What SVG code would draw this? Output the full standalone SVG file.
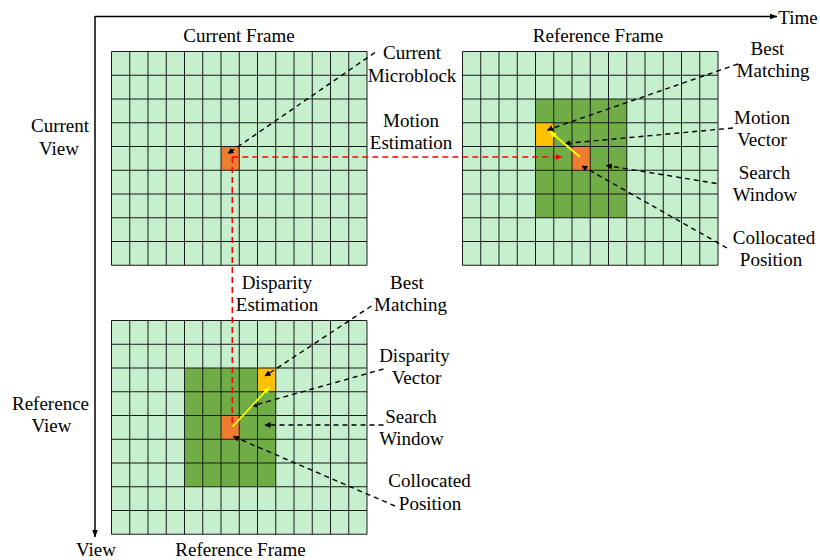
<svg xmlns="http://www.w3.org/2000/svg" width="820" height="560" viewBox="0 0 820 560">
<style>
text{font-family:"Liberation Serif","Times New Roman",serif;font-size:19px;fill:#000;text-anchor:middle}
.bg{fill:#C6EFCE}
.sw{fill:#70AD47}
.cur{fill:#ED7D31}
.best{fill:#FFC000}
.grid{stroke:#1a1a1a;stroke-width:1;fill:none}
.dash{stroke:#000;stroke-width:1.4;stroke-dasharray:5 4;fill:none;marker-end:url(#ah)}
.red{stroke:#FF0000;stroke-width:1.6;stroke-dasharray:6 4;fill:none}
.yel{stroke:#FFFF00;stroke-width:1.8;fill:none;marker-end:url(#ay)}
.axis{stroke:#000;stroke-width:1.5;fill:none}
</style>
<defs>
<marker id="ah" viewBox="0 0 6 6" refX="5.5" refY="3" markerWidth="6" markerHeight="6" markerUnits="userSpaceOnUse" orient="auto"><path d="M0,0 L6,3 L0,6 z" fill="#000"/></marker>
<marker id="ar" viewBox="0 0 7 6" refX="6.5" refY="3" markerWidth="7" markerHeight="6" markerUnits="userSpaceOnUse" orient="auto"><path d="M0,0 L7,3 L0,6 z" fill="#FF0000"/></marker>
<marker id="ay" viewBox="0 0 7 6" refX="6.5" refY="3" markerWidth="7" markerHeight="6" markerUnits="userSpaceOnUse" orient="auto"><path d="M0,0 L7,3 L0,6 z" fill="#FFFF00"/></marker>
<marker id="ax" viewBox="0 0 8 6" refX="7.5" refY="3" markerWidth="8" markerHeight="6" markerUnits="userSpaceOnUse" orient="auto"><path d="M0,0 L8,3 L0,6 z" fill="#000"/></marker>
</defs>

<g id="axes">
<line class="axis" x1="95" y1="16.5" x2="777" y2="16.5" marker-end="url(#ax)"/>
<line class="axis" x1="95" y1="16" x2="95" y2="537" marker-end="url(#ax)"/>
<text x="798" y="24">Time</text>
<text x="96" y="556">View</text>
<text x="60" y="132">Current</text>
<text x="59" y="155">View</text>
<text x="50.5" y="410">Reference</text>
<text x="51.5" y="432">View</text>
</g>

<g id="current-frame">
<rect class="bg" x="111.5" y="51.5" width="255.5" height="213.75"/>
<rect class="cur" x="221" y="146.5" width="18.25" height="23.75"/>
<path class="grid" d="M111.5,51.5V265.25M129.75,51.5V265.25M148,51.5V265.25M166.25,51.5V265.25M184.5,51.5V265.25M202.75,51.5V265.25M221,51.5V265.25M239.25,51.5V265.25M257.5,51.5V265.25M275.75,51.5V265.25M294,51.5V265.25M312.25,51.5V265.25M330.5,51.5V265.25M348.75,51.5V265.25M367,51.5V265.25M111.5,51.5H367M111.5,75.25H367M111.5,99H367M111.5,122.75H367M111.5,146.5H367M111.5,170.25H367M111.5,194H367M111.5,217.75H367M111.5,241.5H367M111.5,265.25H367"/>
<text x="239" y="42">Current Frame</text>
</g>

<g id="reference-frame-time">
<rect class="bg" x="462.5" y="51.5" width="255.5" height="213.75"/>
<rect class="sw" x="535.5" y="99" width="91.25" height="118.75"/>
<rect class="best" x="535.5" y="122.75" width="18.25" height="23.75"/>
<rect class="cur" x="572" y="146.5" width="18.25" height="23.75"/>
<path class="grid" d="M462.5,51.5V265.25M480.75,51.5V265.25M499,51.5V265.25M517.25,51.5V265.25M535.5,51.5V265.25M553.75,51.5V265.25M572,51.5V265.25M590.25,51.5V265.25M608.5,51.5V265.25M626.75,51.5V265.25M645,51.5V265.25M663.25,51.5V265.25M681.5,51.5V265.25M699.75,51.5V265.25M718,51.5V265.25M462.5,51.5H718M462.5,75.25H718M462.5,99H718M462.5,122.75H718M462.5,146.5H718M462.5,170.25H718M462.5,194H718M462.5,217.75H718M462.5,241.5H718M462.5,265.25H718"/>
<text x="598" y="42">Reference Frame</text>
</g>

<g id="reference-frame-view">
<rect class="bg" x="111.5" y="320.5" width="255.5" height="213.75"/>
<rect class="sw" x="184.5" y="368" width="91.25" height="118.75"/>
<rect class="best" x="257.5" y="368" width="18.25" height="23.75"/>
<rect class="cur" x="221" y="415.5" width="18.25" height="23.75"/>
<path class="grid" d="M111.5,320.5V534.25M129.75,320.5V534.25M148,320.5V534.25M166.25,320.5V534.25M184.5,320.5V534.25M202.75,320.5V534.25M221,320.5V534.25M239.25,320.5V534.25M257.5,320.5V534.25M275.75,320.5V534.25M294,320.5V534.25M312.25,320.5V534.25M330.5,320.5V534.25M348.75,320.5V534.25M367,320.5V534.25M111.5,320.5H367M111.5,344.25H367M111.5,368H367M111.5,391.75H367M111.5,415.5H367M111.5,439.25H367M111.5,463H367M111.5,486.75H367M111.5,510.5H367M111.5,534.25H367"/>
<text x="240.5" y="556">Reference Frame</text>
</g>

<g id="labels">
<text x="412" y="59">Current</text>
<text x="412" y="81.5">Microblock</text>
<text x="411" y="126.5">Motion</text>
<text x="411" y="148.5">Estimation</text>
<text x="767.5" y="55">Best</text>
<text x="773" y="77">Matching</text>
<text x="762" y="123.5">Motion</text>
<text x="762" y="145.5">Vector</text>
<text x="764.5" y="178.5">Search</text>
<text x="765" y="200.5">Window</text>
<text x="774" y="243.5">Collocated</text>
<text x="771" y="265.5">Position</text>
<text x="277" y="288.5">Disparity</text>
<text x="277" y="310.5">Estimation</text>
<text x="407" y="288.5">Best</text>
<text x="410.5" y="310.5">Matching</text>
<text x="414.5" y="361.5">Disparity</text>
<text x="416.5" y="383.5">Vector</text>
<text x="411" y="422.5">Search</text>
<text x="411.5" y="444.5">Window</text>
<text x="429.5" y="487">Collocated</text>
<text x="430" y="509.5">Position</text>
</g>

<g id="connectors">
<line class="red" x1="232.3" y1="157" x2="562" y2="157" marker-end="url(#ar)"/>
<line class="red" x1="232.3" y1="157" x2="232.3" y2="428"/>
<line class="dash" x1="375" y1="52.5" x2="228" y2="153.5"/>
<line class="dash" x1="738" y1="64" x2="547.5" y2="130"/>
<line class="dash" x1="733" y1="128" x2="565" y2="143.5"/>
<line class="dash" x1="716.5" y1="183.5" x2="606.5" y2="165.5"/>
<line class="dash" x1="727" y1="248" x2="582" y2="166"/>
<line class="yel" x1="580" y1="157" x2="550" y2="131.5"/>
<line class="dash" x1="371.5" y1="306" x2="265" y2="376"/>
<line class="dash" x1="383.5" y1="369" x2="251.5" y2="406"/>
<line class="dash" x1="383.5" y1="425" x2="265" y2="425"/>
<line class="dash" x1="395" y1="506" x2="233.5" y2="436.5"/>
<line class="yel" x1="232.3" y1="427" x2="269.5" y2="387"/>
</g>
</svg>
